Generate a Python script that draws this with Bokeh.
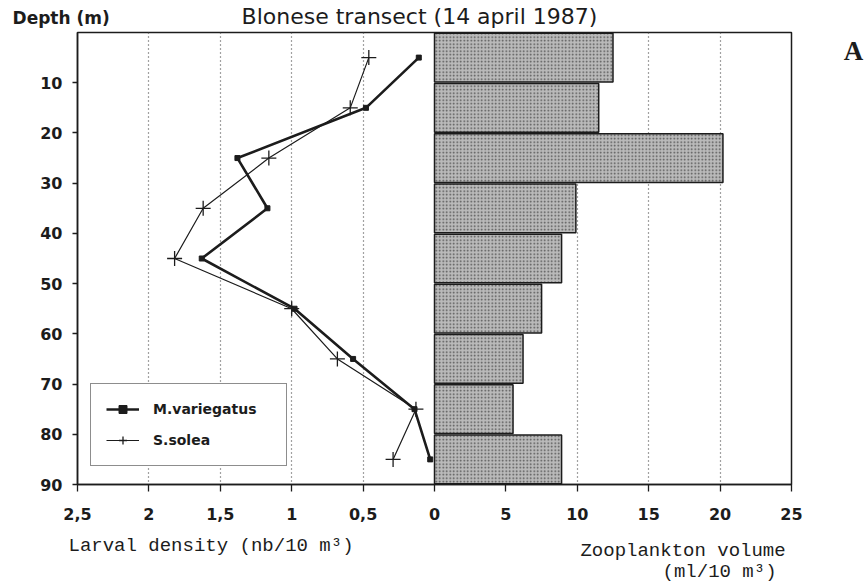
from bokeh.plotting import figure
from bokeh.models import Range1d, FixedTicker, Legend, LegendItem
from bokeh.core.properties import value
from bokeh.embed import file_html
from bokeh.resources import INLINE

# ---- data ----
depth = [5, 15, 25, 35, 45, 55, 65, 75, 85]
m_variegatus = [0.11, 0.48, 1.38, 1.17, 1.63, 0.98, 0.57, 0.14, 0.03]
s_solea = [0.46, 0.59, 1.16, 1.62, 1.82, 1.00, 0.68, 0.13, 0.29]
zooplankton = [12.5, 11.5, 20.2, 9.9, 8.9, 7.5, 6.2, 5.5, 8.9]

depth_ticks = [10, 20, 30, 40, 50, 60, 70, 80, 90]
x_ticks = [-25, -20, -15, -10, -5, 0, 5, 10, 15, 20, 25]
x_tick_labels = ["2,5", "2", "1,5", "1", "0,5", "0", "5", "10", "15", "20", "25"]
grid_ticks = [-20, -15, -10, -5, 10, 15, 20]

INK = "#1c1c1c"
BOLD_SANS = "DejaVu Sans"
MONO = "Liberation Mono"

p = figure(width=868, height=584,
           x_range=Range1d(-25, 25), y_range=Range1d(90, 0),
           output_backend="svg", toolbar_location=None,
           min_border_left=77, min_border_right=77,
           min_border_top=32, min_border_bottom=100)
p.extra_x_ranges = {"dens": Range1d(2.5, -2.5)}

p.outline_line_color = INK
p.outline_line_width = 1.5
p.background_fill_color = "white"
p.border_fill_color = "white"

# grid
p.ygrid.visible = False
p.xgrid.ticker = FixedTicker(ticks=grid_ticks)
p.xgrid.grid_line_color = "#444444"
p.xgrid.grid_line_dash = "1 3"
p.xgrid.grid_line_width = 1.2

# axes
p.xaxis.ticker = FixedTicker(ticks=x_ticks)
p.xaxis.major_label_overrides = {t: l for t, l in zip(x_ticks, x_tick_labels)}
p.yaxis.ticker = FixedTicker(ticks=depth_ticks)
for ax in (p.xaxis[0], p.yaxis[0]):
    ax.axis_line_color = INK
    ax.axis_line_width = 1.5
    ax.major_tick_line_color = INK
    ax.major_tick_line_width = 1.3
    ax.major_tick_in = 0
    ax.minor_tick_line_color = None
    ax.major_label_text_font = BOLD_SANS
    ax.major_label_text_font_style = "bold"
    ax.major_label_text_font_size = "16px"
    ax.major_label_text_color = INK
p.xaxis.major_tick_out = 7
p.xaxis.major_label_standoff = 16
p.yaxis.major_tick_out = 5
p.yaxis.major_label_standoff = 10

# bars (zooplankton)
p.hbar(y=depth, right=zooplankton, left=0, height=9.7,
       fill_color="#bababa", line_color=INK, line_width=1.5,
       hatch_pattern=".", hatch_color="#505050", hatch_scale=3.5,
       hatch_weight=1)

# larval density lines
m_line = p.line(x=m_variegatus, y=depth, x_range_name="dens",
                line_color=INK, line_width=2.6)
m_pts = p.scatter(x=m_variegatus, y=depth, x_range_name="dens",
                  marker="square", size=5, fill_color=INK, line_color=INK)
s_line = p.line(x=s_solea, y=depth, x_range_name="dens",
                line_color=INK, line_width=1.2)
s_pts = p.scatter(x=s_solea, y=depth, x_range_name="dens",
                  marker="cross", size=15, line_color=INK, line_width=1.3)

legend = Legend(items=[LegendItem(label="M.variegatus", renderers=[m_line, m_pts]),
                       LegendItem(label="S.solea", renderers=[s_line, s_pts])],
                location=(13, 18), margin=0, padding=15, spacing=11,
                glyph_width=33, glyph_height=20, label_height=20,
                label_width=118, label_standoff=14,
                label_text_font=BOLD_SANS, label_text_font_style="bold",
                label_text_font_size="14px", label_text_color=INK,
                border_line_color=INK, border_line_width=1.5,
                background_fill_color="white", background_fill_alpha=1)
p.add_layout(legend)

# texts outside the frame: text glyphs on the overlay level (not clipped)
def add_text(x, y, text, font, size, style="normal", align="left", baseline="middle"):
    p.text(x=[x], y=[y], text=[text], text_font=value(font), text_font_size=size,
           text_font_style=style, text_align=align, text_baseline=baseline,
           text_color=INK, level="overlay")

add_text(-1.05, -3.09, "Blonese transect (14 april 1987)", "DejaVu Sans", "22px",
         align="center", baseline="alphabetic")
add_text(-29.55, -2.79, "Depth (m)", BOLD_SANS, "17px", style="bold")
add_text(-25.63, 102.15, "Larval density (nb/10 m³)", MONO, "19px")
add_text(10.22, 103.15, "Zooplankton volume", MONO, "19px")
add_text(15.97, 107.33, "(ml/10 m³)", MONO, "19px")
add_text(29.34, 3.78, "A", "Liberation Serif", "27px", style="bold", align="center")

open("out.html", "w").write(file_html(p, INLINE))
